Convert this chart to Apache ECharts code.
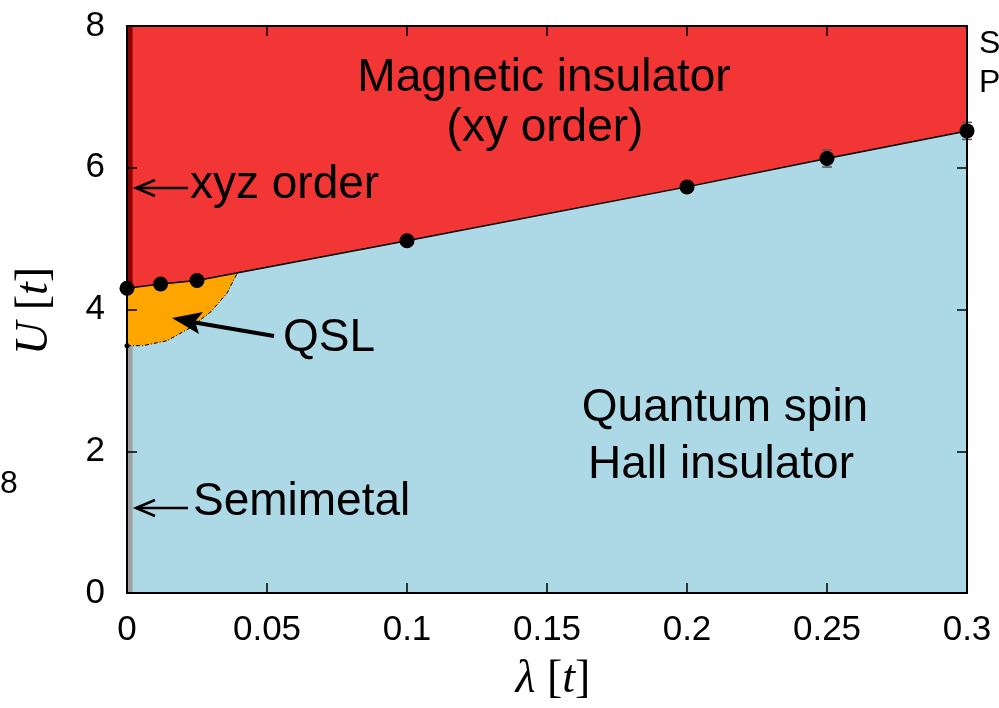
<!DOCTYPE html>
<html>
<head>
<meta charset="utf-8">
<script src="https://cdn.jsdelivr.net/npm/echarts@6/dist/echarts.min.js"></script>
<style>html,body{margin:0;padding:0;background:#fff}#c{width:999px;height:708px}</style>
</head>
<body>
<div id="c"></div>
<script>
// Phase boundary (magnetic transition) points
const lambdaVals = [0, 0.012, 0.025, 0.1, 0.2, 0.25, 0.3];
const uVals = [4.3, 4.36, 4.41, 4.97, 5.73, 6.13, 6.52];
const uErr = [0, 0, 0, 0, 0, 0.12, 0.12];
// QSL region boundary (lower curve)
const qslLambda = [0, 0.0057, 0.0143, 0.0225, 0.0300, 0.0357, 0.0396];
const qslU = [3.49, 3.49, 3.56, 3.74, 3.97, 4.23, 4.53];
// strips at lambda = 0
const stripWidth = 0.002;
const xyzStrip = [4.3, 8];
const semimetalStrip = [0, 3.49];
// axes
const xTickLabels = ['0', '0.05', '0.1', '0.15', '0.2', '0.25', '0.3'];
const yTickLabels = ['0', '2', '4', '6', '8'];

const chart = echarts.init(document.getElementById('c'), null, {renderer: 'canvas'});

function poly(lams, us, color, z) {
  return {
    type: 'custom', coordinateSystem: 'cartesian2d', silent: true, z: z,
    data: [[0, 0]],
    renderItem: function (params, api) {
      return {
        type: 'polygon',
        shape: {points: lams.map(function (l, i) { return api.coord([l, us[i]]); })},
        style: {fill: color}
      };
    }
  };
}

const redL = lambdaVals.concat([0.3, 0]);
const redU = uVals.concat([8, 8]);
const blueL = lambdaVals.concat([0.3, 0]);
const blueU = uVals.concat([0, 0]);
const qslPolyL = [0].concat(qslLambda, [0.025, 0.012, 0]);
const qslPolyU = [4.3].concat(qslU, [4.41, 4.36, 4.3]);

const F = 'Liberation Sans, Arial, Helvetica, sans-serif';
const SERIF = 'Liberation Serif, DejaVu Serif, serif';

function axisCommon() {
  return {
    axisLine: {show: true, onZero: false, lineStyle: {color: '#000', width: 2}},
    axisTick: {show: true, inside: true, length: 10, lineStyle: {color: '#000', width: 1.5}},
    splitLine: {show: false},
    z: 10
  };
}

const option = {
  animation: false,
  backgroundColor: '#fff',
  grid: {left: 127, right: 32, top: 26, bottom: 115, containLabel: false},
  xAxis: [
    Object.assign(axisCommon(), {
      type: 'value', min: 0, max: 0.3, interval: 0.05, position: 'bottom',
      axisLabel: {show: true, margin: 20, fontSize: 35, color: '#000', fontFamily: F,
        formatter: function (v) { return xTickLabels[Math.round(v / 0.05)]; }}
    }),
    Object.assign(axisCommon(), {
      type: 'value', min: 0, max: 0.3, interval: 0.05, position: 'top',
      axisLabel: {show: false}
    })
  ],
  yAxis: [
    Object.assign(axisCommon(), {
      type: 'value', min: 0, max: 8, interval: 2, position: 'left',
      axisLabel: {show: true, margin: 22, fontSize: 35, color: '#000', fontFamily: F,
        formatter: function (v) { return yTickLabels[Math.round(v / 2)]; }}
    }),
    Object.assign(axisCommon(), {
      type: 'value', min: 0, max: 8, interval: 2, position: 'right',
      axisLabel: {show: false}
    })
  ],
  series: [
    poly(blueL, blueU, '#ADD8E6', 1),
    poly(qslPolyL, qslPolyU, '#FFA500', 2),
    poly(redL, redU, '#F23535', 3),
    poly([0, stripWidth, stripWidth, 0], [xyzStrip[0], xyzStrip[0], xyzStrip[1], xyzStrip[1]], '#8B0000', 4),
    poly([0, stripWidth, stripWidth, 0], [semimetalStrip[0], semimetalStrip[0], semimetalStrip[1], semimetalStrip[1]], '#A0A0A0', 4),
    {
      type: 'line', z: 5, symbol: 'none', silent: true,
      data: qslLambda.map(function (l, i) { return [l, qslU[i]]; }),
      lineStyle: {color: '#000', width: 1, type: [4, 2, 1, 2]}
    },
    {
      type: 'line', z: 6, symbol: 'none', silent: true,
      data: lambdaVals.map(function (l, i) { return [l, uVals[i]]; }),
      lineStyle: {color: '#000', width: 1.5}
    },
    {
      type: 'custom', coordinateSystem: 'cartesian2d', silent: true, z: 7,
      data: lambdaVals.map(function (l, i) { return [l, uVals[i], uErr[i]]; }),
      renderItem: function (params, api) {
        const e = api.value(2);
        if (!e) return null;
        const x = api.value(0), y = api.value(1);
        const top = api.coord([x, y + e]);
        const bot = api.coord([x, y - e]);
        return {
          type: 'group',
          children: [
            {type: 'line', shape: {x1: top[0], y1: top[1], x2: bot[0], y2: bot[1]}, style: {stroke: '#555', lineWidth: 1}},
            {type: 'line', shape: {x1: top[0] - 5, y1: top[1], x2: top[0] + 5, y2: top[1]}, style: {stroke: '#555', lineWidth: 1.5}},
            {type: 'line', shape: {x1: bot[0] - 5, y1: bot[1], x2: bot[0] + 5, y2: bot[1]}, style: {stroke: '#555', lineWidth: 1.5}}
          ]
        };
      }
    },
    {
      type: 'scatter', z: 10, clip: false, silent: true, symbol: 'circle', symbolSize: 15,
      itemStyle: {color: '#000', opacity: 1},
      data: lambdaVals.map(function (l, i) { return [l, uVals[i]]; })
    },
    {
      type: 'scatter', z: 10, clip: false, silent: true, symbol: 'circle', symbolSize: 5,
      itemStyle: {color: '#000', opacity: 1},
      data: [[qslLambda[0], qslU[0]]]
    }
  ],
  graphic: [
    // plot frame
    {type: 'rect', z: 15, silent: true, shape: {x: 127, y: 26, width: 840, height: 567}, style: {fill: 'none', stroke: '#000', lineWidth: 2}},
    {type: 'text', z: 20, x: 544, y: 78, style: {text: 'Magnetic insulator', fontSize: 46, fontFamily: F, fill: '#000', align: 'center', verticalAlign: 'middle'}},
    {type: 'text', z: 20, x: 545, y: 128, style: {text: '(xy order)', fontSize: 46, fontFamily: F, fill: '#000', align: 'center', verticalAlign: 'middle'}},
    {type: 'text', z: 20, x: 725, y: 408, style: {text: 'Quantum spin', fontSize: 46, fontFamily: F, fill: '#000', align: 'center', verticalAlign: 'middle'}},
    {type: 'text', z: 20, x: 721, y: 465, style: {text: 'Hall insulator', fontSize: 46, fontFamily: F, fill: '#000', align: 'center', verticalAlign: 'middle'}},
    {type: 'text', z: 20, x: 190, y: 185, style: {text: 'xyz order', fontSize: 46, fontFamily: F, fill: '#000', align: 'left', verticalAlign: 'middle'}},
    {type: 'text', z: 20, x: 283, y: 338, style: {text: 'QSL', fontSize: 46, fontFamily: F, fill: '#000', align: 'left', verticalAlign: 'middle'}},
    {type: 'text', z: 20, x: 193, y: 502, style: {text: 'Semimetal', fontSize: 46, fontFamily: F, fill: '#000', align: 'left', verticalAlign: 'middle'}},
    // arrows
    {type: 'line', z: 20, shape: {x1: 188, y1: 188, x2: 136, y2: 188}, style: {stroke: '#000', lineWidth: 2.5}},
    {type: 'polyline', z: 20, shape: {points: [[155, 180], [136, 188], [155, 196]]}, style: {stroke: '#000', lineWidth: 2.5, fill: null}},
    {type: 'line', z: 20, shape: {x1: 188, y1: 508, x2: 136, y2: 508}, style: {stroke: '#000', lineWidth: 2.5}},
    {type: 'polyline', z: 20, shape: {points: [[155, 500], [136, 508], [155, 516]]}, style: {stroke: '#000', lineWidth: 2.5, fill: null}},
    {type: 'line', z: 20, shape: {x1: 274, y1: 336, x2: 192, y2: 322}, style: {stroke: '#000', lineWidth: 4}},
    {type: 'polygon', z: 20, shape: {points: [[172, 318], [203, 312], [195, 321.5], [199, 334]]}, style: {fill: '#000'}},
    // axis titles
    {type: 'text', z: 20, x: 553, y: 680, style: {
      text: '{i|λ }{n|[}{i|t}{n|]}', align: 'center', verticalAlign: 'middle', fill: '#000',
      rich: {i: {fontFamily: SERIF, fontStyle: 'italic', fontSize: 46}, n: {fontFamily: SERIF, fontSize: 46}}
    }},
    {type: 'text', z: 20, x: 35, y: 311, rotation: Math.PI / 2, style: {
      text: '{i|U }{n|[}{i|t}{n|]}', align: 'center', verticalAlign: 'middle', fill: '#000',
      rich: {i: {fontFamily: SERIF, fontStyle: 'italic', fontSize: 46}, n: {fontFamily: SERIF, fontSize: 46}}
    }},
    // cropped-edge texts
    {type: 'text', z: 20, x: 979, y: 44, style: {text: 'S.', fontSize: 32, fontFamily: F, fill: '#000', align: 'left', verticalAlign: 'middle'}},
    {type: 'text', z: 20, x: 979, y: 83, style: {text: 'P', fontSize: 32, fontFamily: F, fill: '#000', align: 'left', verticalAlign: 'middle'}},
    {type: 'text', z: 20, x: 0, y: 484, style: {text: '8', fontSize: 32, fontFamily: F, fill: '#000', align: 'left', verticalAlign: 'middle'}}
  ]
};
chart.setOption(option);
</script>
</body>
</html>
